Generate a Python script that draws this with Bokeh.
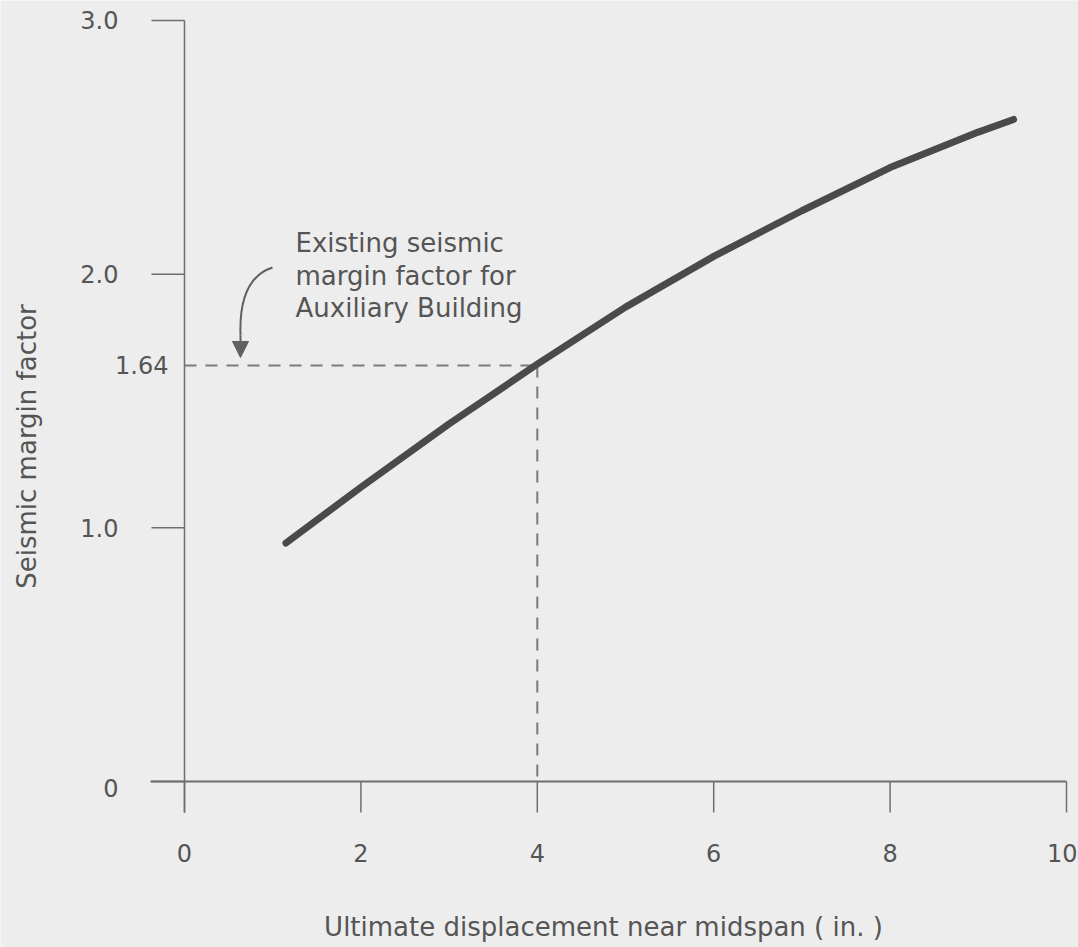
import math
from bokeh.plotting import figure
from bokeh.models import Range1d, Arrow, NormalHead
from bokeh.core.properties import value
from bokeh.embed import file_html
from bokeh.resources import INLINE

# ---- data ----
displacement = [1.15, 2.0, 3.0, 4.0, 5.0, 6.0, 7.0, 8.0, 9.0, 9.4]
margin_factor = [0.94, 1.16, 1.41, 1.645, 1.87, 2.07, 2.25, 2.42, 2.56, 2.61]
ref_disp = 4.0
ref_factor = 1.64
x_ticks = [0, 2, 4, 6, 8, 10]
x_tick_labels = ["0", "2", "4", "6", "8", "10"]
y_ticks = [0, 1, 2, 3]
y_tick_labels = ["0", "1.0", "2.0", "3.0"]
note_lines = ["Existing seismic", "margin factor for", "Auxiliary Building"]
x_title = "Ultimate displacement near midspan ( in. )"
y_title = "Seismic margin factor"

# ---- layout / style ----
W, H = 1078, 947
PX_X = 88.2      # pixels per x unit
PX_Y = 253.67    # pixels per y unit
X0_PX, Y0_PX = 184, 781   # pixel position of the origin

def dx(px):
    return px / PX_X

def dy(px):
    return px / PX_Y

x_lo = -dx(X0_PX)
x_hi = x_lo + dx(W)
y_hi = dy(Y0_PX)
y_lo = y_hi - dy(H)

BG = "#ededed"
INK = "#555555"
AXIS = "#6e6e6e"
FONT = value("DejaVu Sans")

p = figure(width=W, height=H, output_backend="svg", toolbar_location=None,
           x_range=Range1d(x_lo, x_hi), y_range=Range1d(y_lo, y_hi),
           x_axis_type=None, y_axis_type=None,
           min_border=0, min_border_left=0, min_border_right=0,
           min_border_top=0, min_border_bottom=0)
p.background_fill_color = BG
p.border_fill_color = BG
p.outline_line_color = None
p.grid.visible = False

x_axis_start = -dx(34)
y_axis_end = -dy(31)
x_max = x_ticks[-1]
y_max = y_ticks[-1]

# axis lines
p.segment(x0=[x_axis_start], y0=[0], x1=[x_max], y1=[0],
          line_color=AXIS, line_width=2)
p.segment(x0=[0], y0=[y_axis_end], x1=[0], y1=[y_max],
          line_color=AXIS, line_width=1.5)

# ticks
p.segment(x0=x_ticks, y0=[0] * len(x_ticks), x1=x_ticks,
          y1=[-dy(31)] * len(x_ticks), line_color=AXIS, line_width=1.5)
p.segment(x0=[-dx(33)] * len(y_ticks), y0=y_ticks, x1=[0] * len(y_ticks),
          y1=y_ticks, line_color=AXIS, line_width=1.5)

# tick labels (last one kept inside the right edge)
p.text(x=x_ticks[:-1], y=[-dy(71)] * (len(x_ticks) - 1),
       text=x_tick_labels[:-1], text_align="center", text_baseline="middle",
       text_font=FONT, text_font_size="24px", text_color=INK)
p.text(x=[x_ticks[-1] + dx(11)], y=[-dy(71)], text=[x_tick_labels[-1]],
       text_align="right", text_baseline="middle",
       text_font=FONT, text_font_size="24px", text_color=INK)
y_lab_pos = [t - dy(6) if t == 0 else t for t in y_ticks]
p.text(x=[-dx(66)] * len(y_ticks), y=y_lab_pos, text=y_tick_labels,
       text_align="right", text_baseline="middle", text_font=FONT,
       text_font_size="24px", text_color=INK)
p.text(x=[-dx(16)], y=[ref_factor], text=[f"{ref_factor:.2f}"],
       text_align="right", text_baseline="middle", text_font=FONT,
       text_font_size="24px", text_color=INK)

# reference dashed lines
p.line([0, ref_disp], [ref_factor, ref_factor], line_color="#7a7a7a",
       line_width=2, line_dash="12 9")
p.line([ref_disp, ref_disp], [ref_factor, 0], line_color="#7a7a7a",
       line_width=2, line_dash="12 9")

# main curve
p.line(displacement, margin_factor, line_color="#4a4a4a", line_width=7,
       line_cap="round", line_join="round")

# annotation text
note_x = dx(295 - X0_PX)
note_y = [dy(Y0_PX - 242), dy(Y0_PX - 275), dy(Y0_PX - 307)]
p.text(x=[note_x] * len(note_lines), y=note_y, text=note_lines,
       text_align="left", text_baseline="middle", text_font=FONT,
       text_font_size="26px", text_color=INK)

# curved arrow
ax0, ay0 = dx(272 - X0_PX), dy(Y0_PX - 267)
acx, acy = dx(238 - X0_PX), dy(Y0_PX - 278)
ax1, ay1 = dx(240 - X0_PX), dy(Y0_PX - 335)
tip_y = ref_factor + dy(8)
p.quadratic(x0=[ax0], y0=[ay0], x1=[ax1], y1=[ay1], cx=[acx], cy=[acy],
            line_color="#606060", line_width=2)
p.add_layout(Arrow(x_start=ax1, y_start=ay1, x_end=ax1, y_end=tip_y,
                   line_color="#606060", line_width=2,
                   end=NormalHead(size=16, fill_color="#606060",
                                  line_color="#606060")))

# axis titles
p.text(x=[dx(603 - X0_PX)], y=[-dy(926 - Y0_PX)], text=[x_title],
       text_align="center", text_baseline="middle", text_font=FONT,
       text_font_size="26px", text_color=INK)
p.text(x=[-dx(X0_PX - 26)], y=[dy(Y0_PX - 446)], text=[y_title],
       angle=math.pi / 2, text_align="center", text_baseline="middle",
       text_font=FONT, text_font_size="26px", text_color=INK)

open("out.html", "w").write(file_html(p, INLINE))
